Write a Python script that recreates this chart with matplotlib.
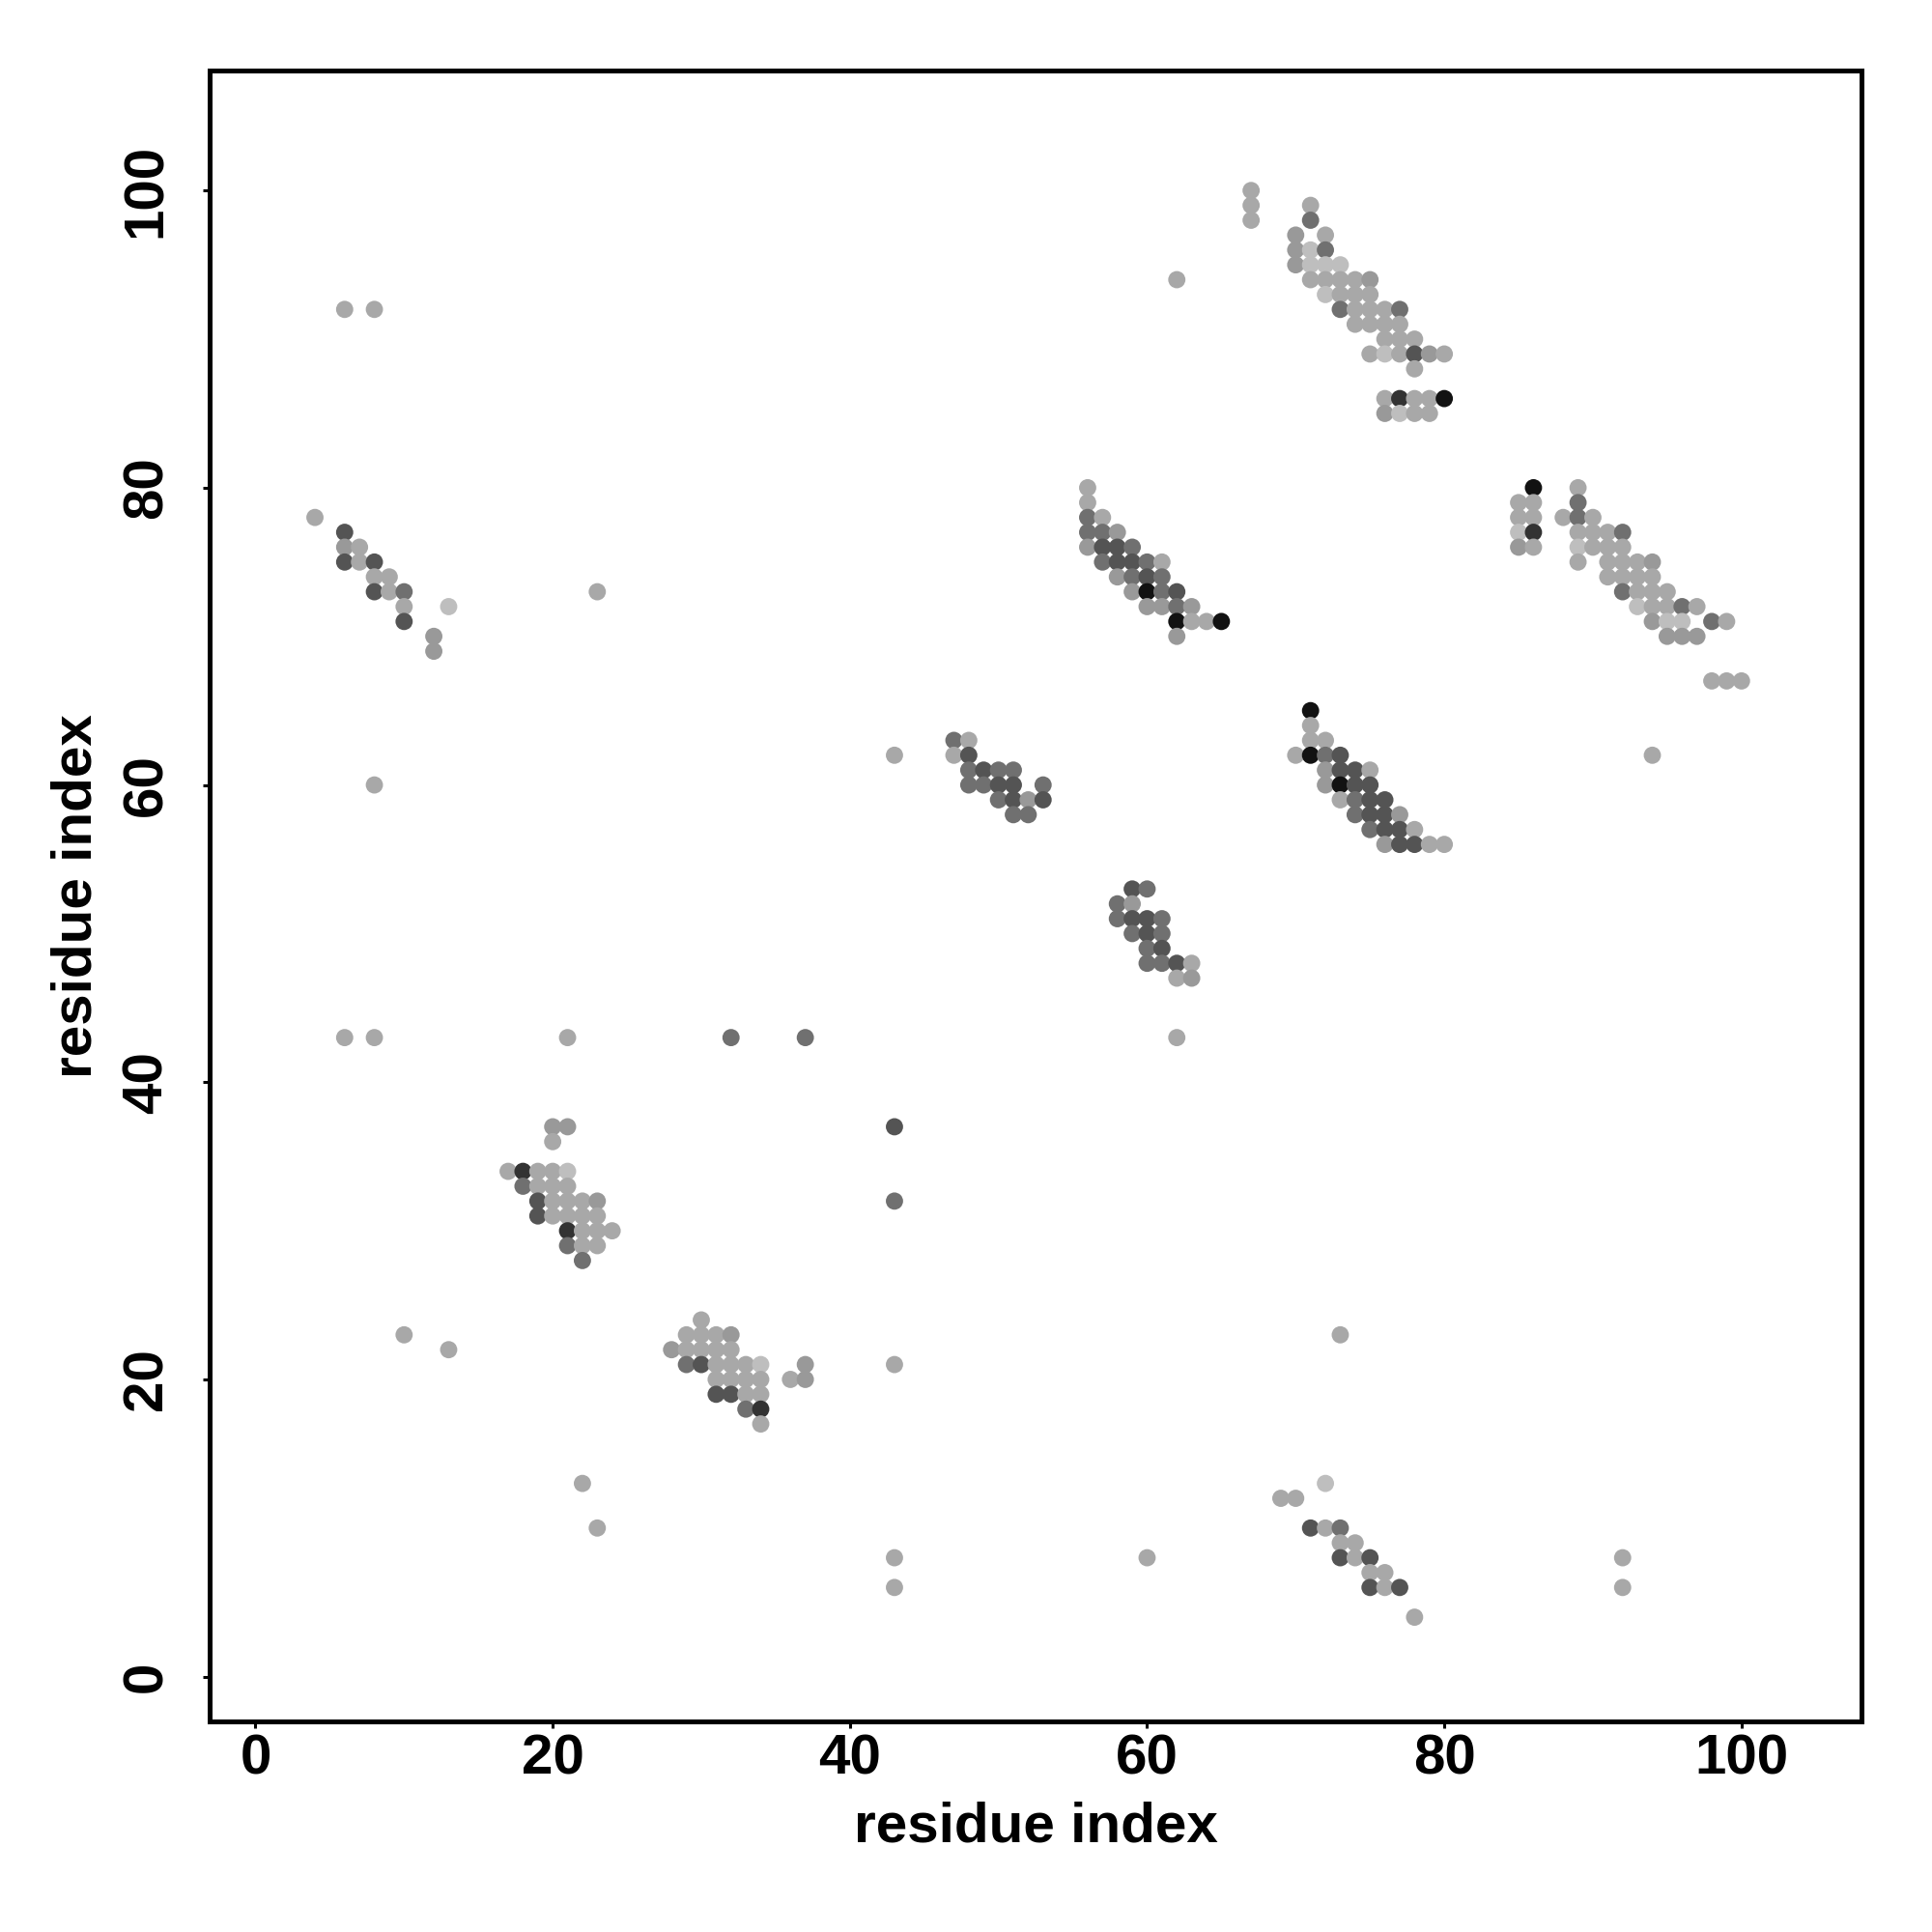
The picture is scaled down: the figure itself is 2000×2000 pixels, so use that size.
import matplotlib
matplotlib.use("Agg")
import matplotlib.pyplot as plt
import numpy as np

# shade levels (grey value 0=black, 1=white)
K, B, D, M, G, L, V = 0.07, 0.2, 0.33, 0.44, 0.6, 0.66, 0.745

contacts = [
    # cluster near (4-13, 69-78)
    (4, 78, L), (6, 77, D), (6, 76, G), (7, 76, L), (6, 75, D), (7, 75, L), (8, 75, D),
    (8, 74, L), (9, 74, L), (8, 73, D), (9, 73, L), (10, 73, M), (10, 72, L), (10, 71, D),
    (13, 72, V), (12, 70, G), (12, 69, G),
    # cluster near (69-78, 4-13)
    (72, 13, V), (69, 12, L), (70, 12, L), (71, 10, D), (72, 10, L), (73, 10, M), (73, 9, L),
    (74, 9, L), (73, 8, D), (74, 8, L), (75, 8, D), (75, 7, L), (76, 7, L), (75, 6, D),
    (76, 6, L), (77, 6, D), (78, 4, L),
    # cluster near (28-37, 17-24)
    (30, 24, L), (29, 23, L), (30, 23, L), (31, 23, L), (32, 23, G), (28, 22, G), (29, 22, L),
    (30, 22, L), (31, 22, L), (32, 22, L), (29, 21, M), (30, 21, D), (31, 21, L), (32, 21, L),
    (33, 21, L), (34, 21, V), (37, 21, G), (31, 20, L), (32, 20, L), (33, 20, L), (34, 20, L),
    (36, 20, L), (37, 20, G), (31, 19, D), (32, 19, D), (33, 19, L), (34, 19, L), (33, 18, M),
    (34, 18, B), (34, 17, L),
    # cluster near (17-24, 28-37)
    (20, 37, G), (21, 37, G), (20, 36, L), (17, 34, L), (18, 34, B), (19, 34, L), (20, 34, L),
    (21, 34, V), (18, 33, M), (19, 33, L), (20, 33, L), (21, 33, L), (19, 32, D), (20, 32, L),
    (21, 32, L), (22, 32, L), (23, 32, G), (19, 31, D), (20, 31, L), (21, 31, L), (22, 31, L),
    (23, 31, L), (21, 30, B), (22, 30, L), (23, 30, L), (24, 30, L), (21, 29, M), (22, 29, L),
    (23, 29, L), (22, 28, M),
    # cluster near (58-63, 47-53)
    (59, 53, D), (60, 53, M), (58, 52, M), (59, 52, G), (58, 51, M), (59, 51, D), (60, 51, D),
    (61, 51, M), (59, 50, M), (60, 50, D), (61, 50, M), (60, 49, M), (61, 49, D), (60, 48, M),
    (61, 48, M), (62, 48, D), (63, 48, L), (62, 47, L), (63, 47, G),
    # cluster near (47-53, 58-63)
    (47, 63, M), (48, 63, L), (47, 62, L), (48, 62, D), (48, 61, M), (49, 61, D), (50, 61, M),
    (51, 61, M), (48, 60, M), (49, 60, M), (50, 60, D), (51, 60, D), (53, 60, M), (50, 59, M),
    (51, 59, D), (52, 59, G), (53, 59, D), (51, 58, M), (52, 58, M),
    # cluster near (70-80, 56-65)
    (71, 65, K), (71, 64, L), (71, 63, L), (72, 63, L), (70, 62, L), (71, 62, K), (72, 62, M),
    (73, 62, D), (72, 61, G), (73, 61, D), (74, 61, D), (75, 61, L), (72, 60, G), (73, 60, K),
    (74, 60, D), (75, 60, D), (73, 59, L), (74, 59, M), (75, 59, D), (76, 59, D), (74, 58, M),
    (75, 58, D), (76, 58, D), (77, 58, G), (75, 57, M), (76, 57, D), (77, 57, D), (78, 57, L),
    (76, 56, G), (77, 56, D), (78, 56, D), (79, 56, L), (80, 56, L),
    # cluster near (56-65, 70-80)
    (56, 80, L), (56, 79, L), (56, 78, M), (57, 78, L), (56, 77, M), (57, 77, M), (58, 77, G),
    (56, 76, G), (57, 76, D), (58, 76, D), (59, 76, M), (57, 75, M), (58, 75, D), (59, 75, D),
    (60, 75, M), (61, 75, L), (58, 74, G), (59, 74, M), (60, 74, D), (61, 74, M), (59, 73, G),
    (60, 73, K), (61, 73, M), (62, 73, D), (60, 72, G), (61, 72, G), (62, 72, M), (63, 72, G),
    (62, 71, K), (63, 71, L), (64, 71, L), (65, 71, K), (62, 70, G),
    # cluster near (85-100, 67-80)
    (86, 80, K), (89, 80, L), (85, 79, L), (86, 79, L), (89, 79, M), (85, 78, L), (86, 78, L),
    (88, 78, L), (89, 78, M), (90, 78, L), (85, 77, V), (86, 77, B), (89, 77, L), (90, 77, L),
    (91, 77, L), (92, 77, M), (85, 76, G), (86, 76, L), (89, 76, V), (90, 76, L), (91, 76, L),
    (92, 76, L), (89, 75, L), (91, 75, L), (92, 75, L), (93, 75, L), (94, 75, G), (91, 74, L),
    (92, 74, L), (93, 74, L), (94, 74, L), (92, 73, M), (93, 73, L), (94, 73, L), (95, 73, L),
    (93, 72, V), (94, 72, L), (95, 72, L), (96, 72, M), (97, 72, L), (94, 71, G), (95, 71, V),
    (96, 71, V), (98, 71, M), (99, 71, L), (95, 70, G), (96, 70, G), (97, 70, G), (98, 67, L),
    (99, 67, L), (100, 67, L),
    # cluster near (67-80, 85-100)
    (67, 100, L), (67, 99, L), (71, 99, L), (67, 98, L), (71, 98, M), (70, 97, G), (72, 97, L),
    (70, 96, G), (71, 96, V), (72, 96, M), (70, 95, G), (71, 95, V), (72, 95, V), (73, 95, V),
    (71, 94, L), (72, 94, L), (73, 94, L), (74, 94, L), (75, 94, G), (72, 93, V), (73, 93, L),
    (74, 93, L), (75, 93, L), (73, 92, M), (74, 92, L), (75, 92, L), (76, 92, L), (77, 92, M),
    (74, 91, L), (75, 91, L), (76, 91, L), (77, 91, L), (76, 90, L), (77, 90, L), (78, 90, L),
    (75, 89, L), (76, 89, V), (77, 89, L), (78, 89, D), (79, 89, G), (80, 89, L), (78, 88, L),
    (76, 86, L), (77, 86, B), (78, 86, L), (79, 86, L), (80, 86, K), (76, 85, G), (77, 85, V),
    (78, 85, L), (79, 85, L),
    # isolated contacts
    (6, 92, L), (8, 92, L), (23, 73, L), (8, 60, L), (6, 43, L), (8, 43, L), (21, 43, L),
    (32, 43, M), (37, 43, M), (43, 37, D), (43, 32, M), (43, 21, L), (43, 8, L), (43, 6, L),
    (10, 23, L), (13, 22, L), (22, 13, L), (23, 10, L), (43, 62, L), (62, 94, L), (62, 43, L),
    (60, 8, L), (73, 23, L), (94, 62, L), (92, 8, L), (92, 6, L),
]

res_i = [c[0] for c in contacts]
res_j = [c[1] for c in contacts]
shade = [c[2] for c in contacts]

tick_vals = [0, 20, 40, 60, 80, 100]
tick_labels = ["0", "20", "40", "60", "80", "100"]

FONT = ["Liberation Sans Narrow", "Liberation Sans", "DejaVu Sans"]
plt.rcParams['font.family'] = FONT
plt.rcParams['font.weight'] = 'bold'

fig = plt.figure(figsize=(20, 20), dpi=100)
ax = fig.add_axes([0.1084, 0.1091, 0.8553, 0.8546])

colors = [str(s) for s in shade]
ax.scatter(res_i, res_j, s=165, c=colors, linewidths=0, zorder=2)

ax.set_xlim(-3.1, 108.1)
ax.set_ylim(-3.0, 108.1)

for sp in ax.spines.values():
    sp.set_linewidth(3.6)
    sp.set_color("black")

ax.set_xticks(tick_vals)
ax.set_xticklabels(tick_labels)
ax.set_yticks(tick_vals)
ax.set_yticklabels(tick_labels, rotation=90, va="center")
ax.tick_params(axis="both", direction="out", length=5, width=2.2, labelsize=42)
ax.tick_params(axis="x", pad=4)
ax.tick_params(axis="y", pad=22)
for lab in ax.get_xticklabels() + ax.get_yticklabels():
    lab.set_fontweight("bold")

ax.set_xlabel("residue index", fontsize=42, fontweight="bold", va="center")
ax.set_ylabel("residue index", fontsize=42, fontweight="bold", va="center", ha="center")
ax.xaxis.set_label_coords(0.5, -0.0644)
ax.yaxis.set_label_coords(-0.080, 0.5)

fig.savefig("out.png", dpi=100, facecolor="white")
